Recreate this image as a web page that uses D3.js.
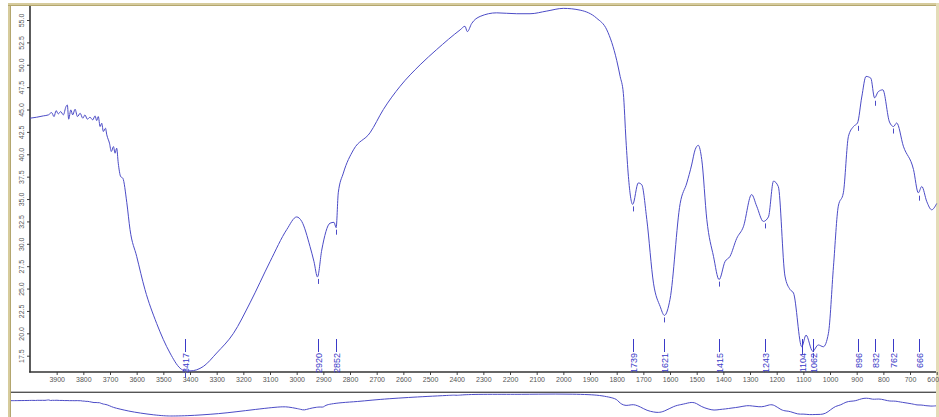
<!DOCTYPE html>
<html><head><meta charset="utf-8">
<script src="https://cdn.jsdelivr.net/npm/d3@7"></script>
<style>html,body{margin:0;padding:0;background:#fff;}svg{display:block;}</style>
</head><body>
<svg id="c" width="939" height="417"></svg>
<script>
const wavenumbers = [4000,3975,3950,3931,3919,3910,3902,3894,3885,3875,3865,3860,3855,3847,3840,3831,3822,3812,3802,3794,3785,3775,3765,3756,3750,3744,3737,3731,3725,3717,3712,3702,3695,3687,3681,3675,3669,3660,3652,3637,3625,3600,3569,3525,3475,3437,3417,3400,3350,3300,3237,3175,3100,3037,3000,2981,2950,2935,2922,2906,2875,2860,2852,2844,2825,2787,2725,2675,2612,2537,2475,2387,2369,2360,2344,2312,2250,2175,2125,2062,2000,1937,1875,1837,1800,1787,1775,1765,1756,1740,1719,1706,1687,1662,1637,1621,1600,1562,1537,1519,1506,1494,1481,1462,1437,1416,1394,1375,1350,1325,1294,1275,1250,1231,1212,1194,1169,1150,1137,1106,1090,1065,1044,1025,1006,987,969,950,931,912,897,881,865,847,833,819,802,777,762,750,725,687,669,656,637,619,600];
const transmittance = [44.03,44.14,44.29,44.40,44.66,44.21,44.88,44.51,44.77,44.40,45.33,45.51,43.92,44.96,44.40,45.03,44.21,44.58,44.03,44.40,43.92,44.14,43.84,44.29,43.77,44.21,43.10,43.47,42.54,42.91,42.17,41.24,40.31,40.86,40.12,40.68,39.00,37.51,37.33,34.6,31.6,28.6,24.9,21.1,17.8,16.1,15.8,15.8,16.3,17.8,20.0,23.4,28.0,31.6,33.0,32.5,29.7,28.0,26.3,29.3,32.3,32.4,31.8,35.7,37.9,40.5,42.4,45.0,47.6,50.0,51.7,53.9,54.3,53.7,54.6,55.4,55.8,55.7,55.7,56.0,56.3,56.1,55.2,53.9,50.5,48.7,46.8,41.5,37.5,34.4,36.8,36.6,32.7,25.6,23.0,22.0,23.8,34.5,36.8,38.8,40.5,41.0,39.4,32.7,28.6,26.0,28.0,28.6,30.6,31.9,35.5,34.2,32.5,33.0,37.0,36.4,26.4,24.9,24.5,18.5,19.8,18.0,18.7,18.5,20.0,27.5,34.2,35.7,42.0,43.1,43.5,46.4,48.7,48.5,46.3,47.0,47.2,43.6,43.1,43.5,40.9,38.3,35.7,36.4,34.7,33.8,34.5];
const peakWavenumbers = [3417,2920,2852,1739,1621,1415,1243,1104,1062,896,832,762,666];
const peakValues = [15.8,26.3,31.8,34.4,22.0,26.0,32.5,18.4,18.0,43.4,46.2,43.1,35.6];
const xTickValues = d3.range(3900, 599, -100);
const yTickValues = [17.5,20.0,22.5,25.0,27.5,30.0,32.5,35.0,37.5,40.0,42.5,45.0,47.5,50.0,52.5,55.0];

const svg = d3.select('#c');
const data = wavenumbers.map((w,i)=>({w, t: transmittance[i]}));

const x = d3.scaleLinear().domain([4000, 600]).range([30, 936.7]);
const y = d3.scaleLinear().domain([17.5, 55]).range([355.7, 20]);

const curveColor = '#4b4bc6';
const textBlue = '#3a3ac8';

// frame
svg.append('rect').attr('x',0).attr('y',0).attr('width',939).attr('height',417).attr('fill','#fff');
svg.append('rect').attr('x',8).attr('y',3).attr('width',3).attr('height',414).attr('fill','#d6cb9c');
svg.append('rect').attr('x',8).attr('y',3).attr('width',930).attr('height',3).attr('fill','#d6cb9c');
svg.append('line').attr('x1',8).attr('x2',938).attr('y1',5.5).attr('y2',5.5).attr('stroke','#b3a66e').attr('stroke-width',1);
svg.append('line').attr('x1',10.5).attr('x2',10.5).attr('y1',5).attr('y2',417).attr('stroke','#b3a66e').attr('stroke-width',1);
svg.append('rect').attr('x',936).attr('y',3).attr('width',3).attr('height',414).attr('fill','#e4dcb8');

// axes
const yAxis = d3.axisLeft(y).tickValues(yTickValues).tickSize(3).tickFormat(d3.format('.1f'));
const gy = svg.append('g').attr('transform','translate(30,0)').call(yAxis);
gy.select('.domain').remove();
gy.selectAll('.tick line').attr('stroke','#444');
gy.selectAll('.tick text').attr('font-family','Liberation Sans, Arial, sans-serif').attr('font-size','7px').attr('fill','#555')
  .attr('text-anchor','middle').attr('dy',0).attr('x',0)
  .attr('transform','translate(-6,0) rotate(-90)');
svg.append('line').attr('x1',30).attr('x2',30).attr('y1',6).attr('y2',372.5).attr('stroke','#333').attr('stroke-width',1.6);

const xAxis = d3.axisBottom(x).tickValues(xTickValues).tickSize(3).tickFormat(d3.format('d'));
const gx = svg.append('g').attr('transform','translate(0,372)').call(xAxis);
gx.select('.domain').remove();
gx.selectAll('.tick line').attr('stroke','#444');
gx.selectAll('.tick text').attr('font-family','Liberation Sans, Arial, sans-serif').attr('font-size','7px').attr('fill','#555').attr('y',5);
gx.selectAll('.tick text').filter(d=>d===600).attr('x',-4);
svg.append('line').attr('x1',29.2).attr('x2',936).attr('y1',372).attr('y2',372).attr('stroke','#333').attr('stroke-width',1.6);

// main curve
const line = d3.line().x(d=>x(d.w)).y(d=>y(d.t)).curve(d3.curveMonotoneX);
svg.append('path').datum(data).attr('d',line).attr('fill','none').attr('stroke',curveColor).attr('stroke-width',1);

// peak markers
const pk = svg.append('g');
peakWavenumbers.forEach((w,i)=>{
  const px = Math.round(x(w))+0.5;
  pk.append('line').attr('x1',px).attr('x2',px).attr('y1',y(peakValues[i])+2).attr('y2',y(peakValues[i])+7)
    .attr('stroke',curveColor).attr('stroke-width',1);
  pk.append('line').attr('x1',px).attr('x2',px).attr('y1',339).attr('y2',352)
    .attr('stroke',textBlue).attr('stroke-width',1);
  pk.append('text').attr('transform',`translate(${px},353) rotate(-90)`).attr('text-anchor','end').attr('dy','0.35em')
    .attr('font-family','Liberation Sans, Arial, sans-serif').attr('font-size','9px').attr('fill',textBlue).text(w);
});

// overview
svg.append('line').attr('x1',11).attr('x2',936).attr('y1',391.5).attr('y2',391.5).attr('stroke','#bbb').attr('stroke-width',1);
svg.append('line').attr('x1',11).attr('x2',936).attr('y1',392.5).attr('y2',392.5).attr('stroke','#555').attr('stroke-width',1);
const xo = d3.scaleLinear().domain([4000, 600]).range([11, 936]);
const yo = d3.scaleLinear().domain([15.8, 56.3]).range([416, 394]);
const lineO = d3.line().x(d=>xo(d.w)).y(d=>yo(d.t)).curve(d3.curveBasis);
svg.append('path').datum(data).attr('d',lineO).attr('fill','none').attr('stroke',curveColor).attr('stroke-width',1);
</script>
</body></html>
